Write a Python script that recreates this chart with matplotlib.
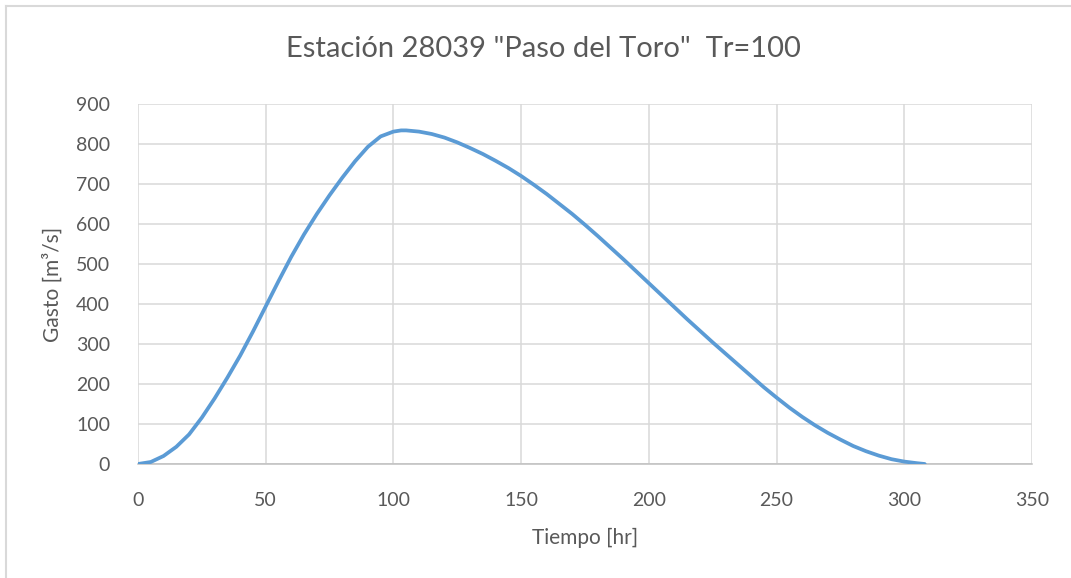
import matplotlib
matplotlib.use("Agg")
import matplotlib.pyplot as plt
from matplotlib.lines import Line2D

# Data
tiempo = [0, 5, 10, 15, 20, 25, 30, 35, 40, 45, 50, 55, 60, 65, 70, 75, 80, 85, 90, 95,
          100, 103, 105, 110, 115, 120, 125, 130, 135, 140, 145, 150, 155, 160, 165, 170,
          175, 180, 185, 190, 195, 200, 205, 210, 215, 220, 225, 230, 235, 240, 245, 250,
          255, 260, 265, 270, 275, 280, 285, 290, 295, 300, 305, 308]
gasto = [0, 5, 20, 43, 74, 116, 164, 216, 271, 331, 394, 457, 518, 574, 625, 672, 716, 757, 793, 819,
         831, 834, 834, 831, 825, 816, 804, 790, 775, 758, 740, 720, 698, 675, 650, 625,
         598, 570, 541, 512, 482, 452, 422, 392, 362, 333, 304, 276, 248, 220, 192, 166,
         141, 118, 97, 78, 61, 45, 32, 21, 12, 6, 2, 0]
xticks = [0, 50, 100, 150, 200, 250, 300, 350]
yticks = [0, 100, 200, 300, 400, 500, 600, 700, 800, 900]

W, H = 1071, 578
fig = plt.figure(figsize=(W / 100, H / 100), dpi=100)
fig.patch.set_facecolor("white")
plt.rcParams["font.family"] = ["Lato", "DejaVu Sans"]

ax = fig.add_axes([138 / W, 1 - 464 / H, (1032 - 138) / W, (464 - 104) / H])
ax.plot(tiempo, gasto, color="#5b9bd5", linewidth=2.7, solid_capstyle="round",
        solid_joinstyle="round", zorder=3)

ax.set_xlim(0, 350)
ax.set_ylim(0, 900)
ax.set_xticks(xticks)
ax.set_yticks(yticks)
ax.grid(True, color="#d9d9d9", linewidth=1.1)
ax.set_axisbelow(True)
for s in ["top", "right", "left"]:
    ax.spines[s].set_visible(False)
ax.spines["bottom"].set_color("#bfbfbf")
ax.spines["bottom"].set_linewidth(1.1)
ax.tick_params(axis="both", length=0, labelsize=14, labelcolor="#595959")
ax.tick_params(axis="x", pad=20)
ax.tick_params(axis="y", pad=20)

ax.set_xlabel("Tiempo [hr]", fontsize=15, color="#595959", labelpad=14)
ax.set_ylabel("Gasto [m³/s]", fontsize=15, color="#595959", labelpad=10)

fig.text(543 / W, 1 - 49 / H, 'Estación 28039 "Paso del Toro"  Tr=100',
         ha="center", va="center", fontsize=21, color="#595959")

# chart area border (top and left visible)
fig.add_artist(Line2D([6 / W, 1.0], [1 - 6 / H, 1 - 6 / H], transform=fig.transFigure,
                      color="#d9d9d9", linewidth=1.5))
fig.add_artist(Line2D([6 / W, 6 / W], [0.0, 1 - 6 / H], transform=fig.transFigure,
                      color="#d9d9d9", linewidth=1.5))

fig.savefig("out.png", dpi=100, facecolor="white")
